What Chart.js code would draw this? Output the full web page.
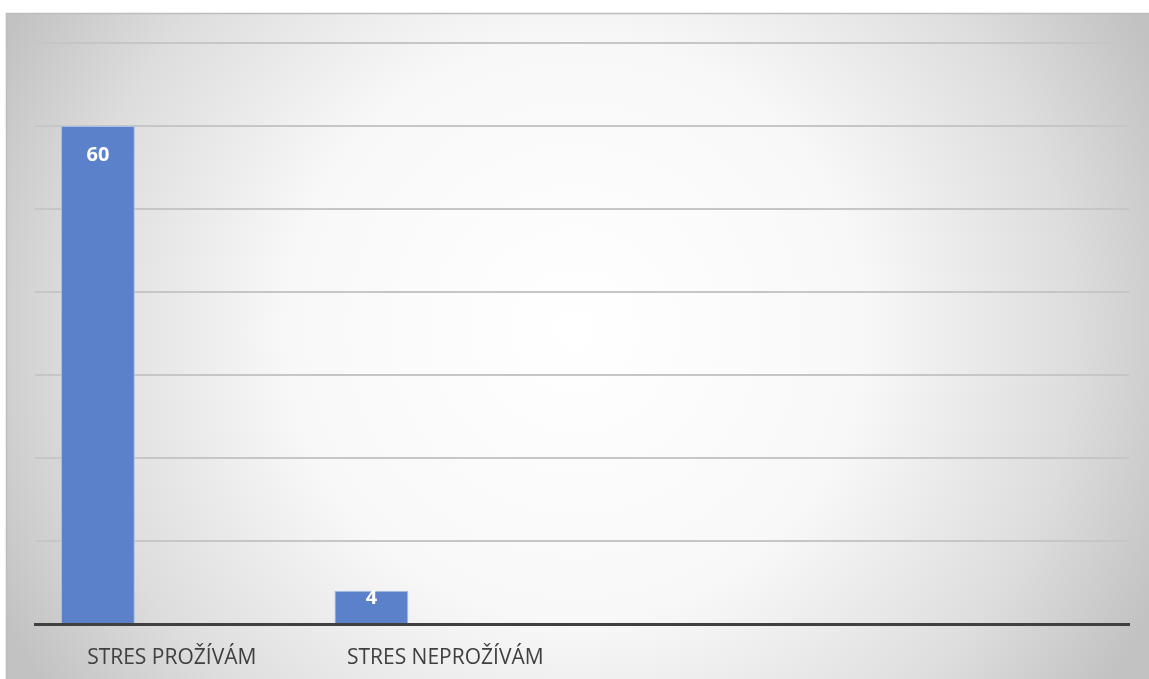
<!DOCTYPE html>
<html>
<head>
<meta charset="utf-8">
<script src="https://cdn.jsdelivr.net/npm/chart.js@4/dist/chart.umd.min.js"></script>
<style>
  html, body { margin: 0; padding: 0; background: #fff; }
  #wrap { width: 1149px; height: 679px; position: relative; }
</style>
</head>
<body>
<div id="wrap"><canvas id="stresChart"></canvas></div>
<script>
// Odpovědi respondentů
const kategorie = ['STRES PROŽÍVÁM', 'STRES NEPROŽÍVÁM', '', ''];
const rada1 = [60, 4, null, null];
const rada2 = [null, null, null, null];
const rada3 = [null, null, null, null];

// Pozadí s kruhovým přechodem a rámečkem
const pozadi = {
  id: 'pozadi',
  beforeDraw(chart) {
    const ctx = chart.ctx;
    const w = chart.width, h = chart.height;
    ctx.save();
    ctx.fillStyle = '#ffffff';
    ctx.fillRect(0, 0, w, h);
    const g = ctx.createRadialGradient(575, 330, 0, 575, 330, 640);
    g.addColorStop(0, '#ffffff');
    g.addColorStop(0.45, '#f8f8f8');
    g.addColorStop(0.78, '#dddddd');
    g.addColorStop(1, '#c2c2c2');
    ctx.fillStyle = g;
    ctx.fillRect(6, 13, w - 6, h - 13);
    ctx.strokeStyle = '#bdbdbd';
    ctx.lineWidth = 1.5;
    ctx.beginPath();
    ctx.moveTo(6.5, h);
    ctx.lineTo(6.5, 13.5);
    ctx.lineTo(w, 13.5);
    ctx.stroke();
    ctx.restore();
  }
};

// Hodnoty uvnitř sloupců
const popisky = {
  id: 'popisky',
  afterDatasetsDraw(chart) {
    const ctx = chart.ctx;
    const meta = chart.getDatasetMeta(0);
    ctx.save();
    ctx.fillStyle = '#ffffff';
    ctx.font = 'bold 20px "Open Sans"';
    ctx.textAlign = 'center';
    ctx.textBaseline = 'middle';
    meta.data.forEach((bar, i) => {
      const v = rada1[i];
      if (v === null) return;
      const vyska = bar.base - bar.y;
      // u nízkých sloupců je popisek přitlačený k horní hraně
      const y = vyska > 60 ? bar.y + 29 : bar.y + 7;
      ctx.fillText(String(v), bar.x, y);
    });
    ctx.restore();
  }
};

new Chart(document.getElementById('stresChart'), {
  type: 'bar',
  data: {
    labels: kategorie,
    datasets: [
      { label: 'Řada 1', data: rada1, backgroundColor: '#5a81c9', borderColor: '#a9bfe6', borderWidth: 1 },
      { label: 'Řada 2', data: rada2, backgroundColor: '#ed7d31' },
      { label: 'Řada 3', data: rada3, backgroundColor: '#a5a5a5' }
    ]
  },
  options: {
    responsive: true,
    maintainAspectRatio: false,
    animation: false,
    categoryPercentage: 0.81,
    barPercentage: 1,
    layout: { padding: { left: 35, right: 20, top: 43, bottom: 0 } },
    plugins: {
      legend: { display: false },
      tooltip: { enabled: false }
    },
    scales: {
      x: {
        grid: { display: false, drawTicks: false },
        border: { display: true, color: '#404040', width: 3 },
        ticks: {
          padding: 21,
          color: '#404040',
          font: { family: 'Open Sans', size: 21 }
        },
        afterFit(scale) { scale.height = 55; }
      },
      y: {
        min: 0,
        max: 70,
        ticks: { stepSize: 10, display: false },
        grid: { color: '#c6c6c6', lineWidth: 2, drawTicks: false },
        border: { display: false }
      }
    }
  },
  plugins: [pozadi, popisky]
});
</script>
</body>
</html>
